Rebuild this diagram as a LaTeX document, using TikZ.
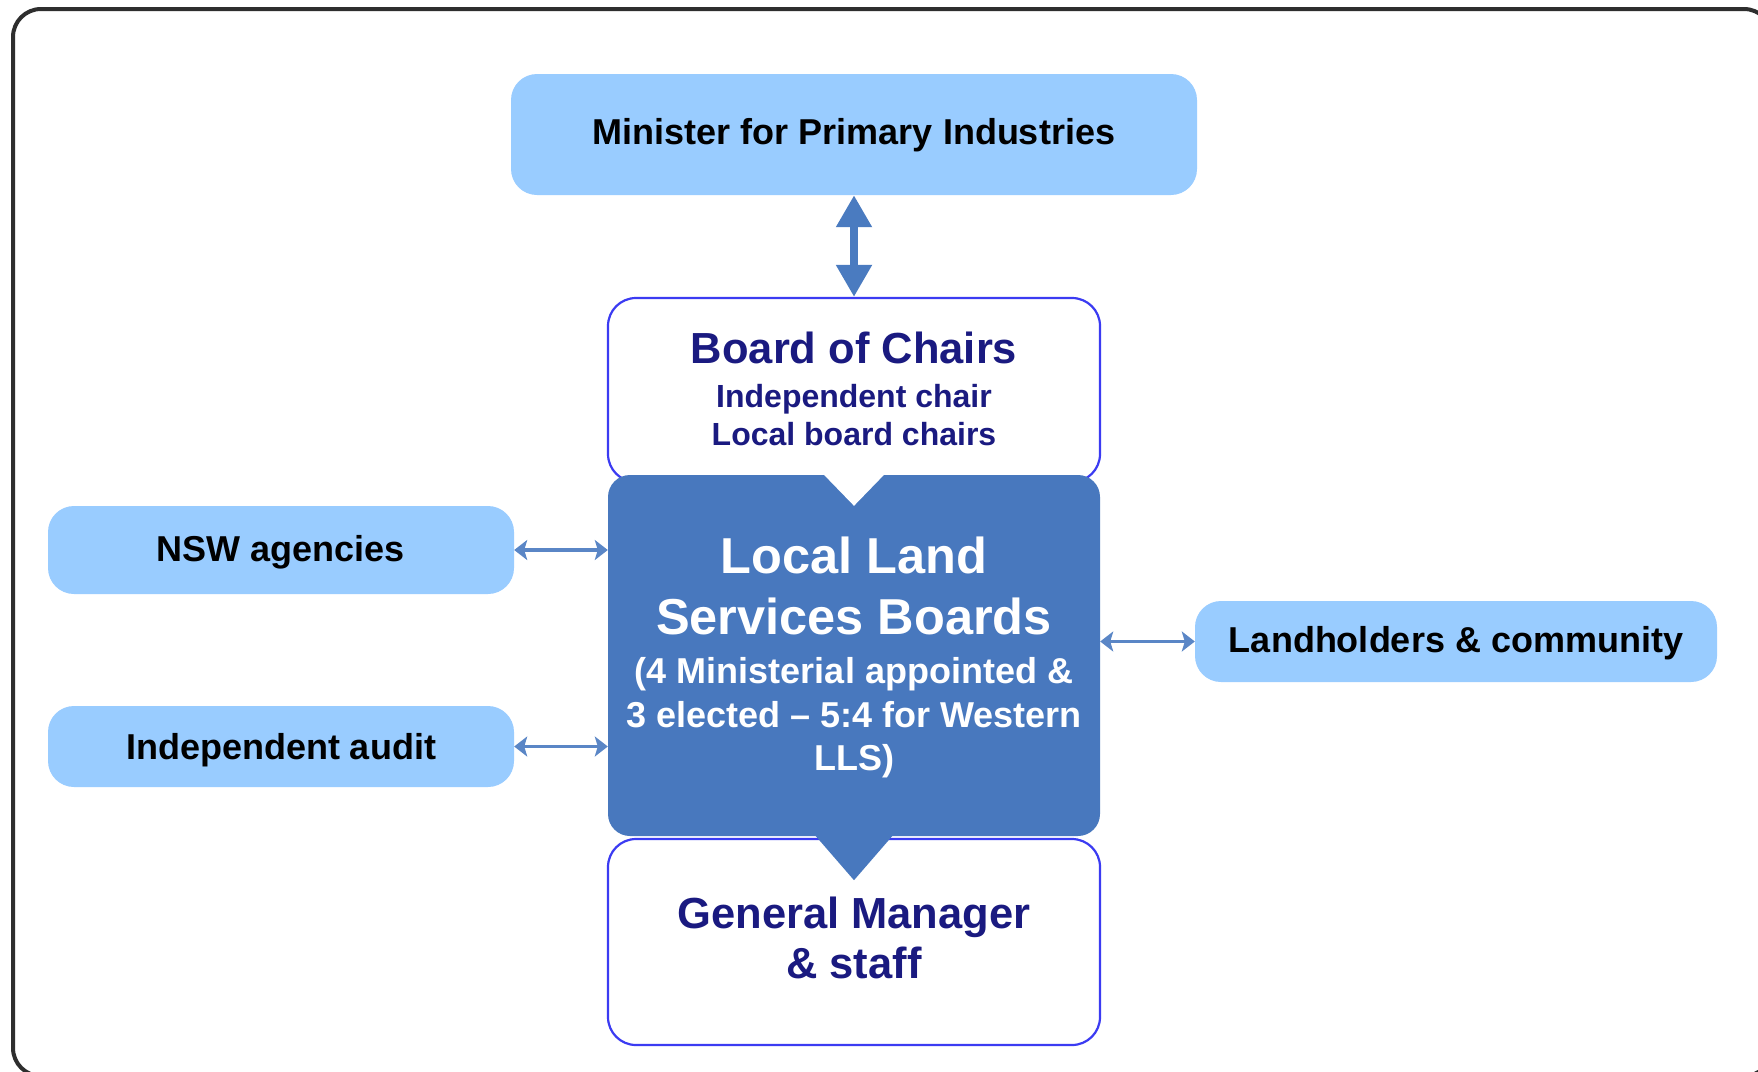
\documentclass[tikz,border=0pt]{standalone}
\usepackage{fontspec}
\setmainfont{Liberation Sans}
\usetikzlibrary{arrows.meta}
\definecolor{lightbox}{HTML}{99CCFF}
\definecolor{llsblue}{HTML}{4878BE}
\definecolor{navytext}{HTML}{1A1A80}
\definecolor{edgeblue}{HTML}{3B3BF2}
\definecolor{arrowblue}{HTML}{4A7BC0}
\definecolor{thinblue}{HTML}{5A86C6}
\definecolor{framegray}{HTML}{2E2E2E}
\newcommand{\pxfont}[1]{\fontsize{#1}{#1}\selectfont}
\begin{document}
\begin{tikzpicture}[x=1pt,y=-1pt,
  lbox/.style={fill=lightbox, draw=none, rounded corners=26pt, inner sep=0pt},
  wbox/.style={fill=white, draw=edgeblue, line width=2.2pt, rounded corners=28pt, inner sep=0pt},
  llsbox/.style={fill=llsblue, draw=none, rounded corners=22pt, inner sep=0pt},
  blabel/.style={anchor=base, inner sep=0pt, text=black, font=\bfseries\pxfont{36}},
  navybig/.style={anchor=base, inner sep=0pt, text=navytext, font=\bfseries\pxfont{43.5}},
  navysmall/.style={anchor=base, inner sep=0pt, text=navytext, font=\bfseries\pxfont{32}},
  whitebig/.style={anchor=base, inner sep=0pt, text=white, font=\bfseries\pxfont{50.5}},
  whitesmall/.style={anchor=base, inner sep=0pt, text=white, font=\bfseries\pxfont{36}},
  thickarrow/.style={draw=arrowblue, line width=8pt, {Triangle[length=32pt,width=34pt]}-{Triangle[length=32pt,width=34pt]}},
  thinarrow/.style={draw=thinblue, line width=3.5pt, {Stealth[length=13pt,width=20pt,inset=3pt]}-{Stealth[length=13pt,width=20pt,inset=3pt]}}
]
\useasboundingbox (0,0) rectangle (1758,1071);
\clip (0,0) rectangle (1758,1071);
\fill[white] (0,0) rectangle (1758,1071);
\draw[framegray, line width=4pt, rounded corners=28pt] (13,9) rectangle (1772,1076);

% boxes
\node[lbox, minimum width=686pt, minimum height=121pt] (minister) at (854,134.5) {};
\node[lbox, minimum width=466pt, minimum height=88pt] (nsw) at (281,550) {};
\node[lbox, minimum width=466pt, minimum height=81pt] (audit) at (281,746.5) {};
\node[lbox, minimum width=522pt, minimum height=81pt] (land) at (1456,641.5) {};
\node[wbox, minimum width=492pt, minimum height=184pt] (board) at (854,390) {};
\node[wbox, minimum width=492pt, minimum height=206pt] (gm) at (854,942) {};
\node[llsbox, minimum width=492pt, minimum height=361pt] (lls) at (854,655.5) {};

% callout pointers
\fill[white] ([xshift=-31pt,yshift=1pt]lls.north) -- ([xshift=31pt,yshift=1pt]lls.north) -- ([yshift=-31pt]lls.north) -- cycle;
\fill[llsblue] ([xshift=-39pt,yshift=1pt]lls.south) -- ([xshift=39pt,yshift=1pt]lls.south) -- ([yshift=-44pt]lls.south) -- cycle;

% texts
\node[blabel] (mintext) at (854,144) {Minister for Primary Industries};
\node[blabel] (nswtext) at (281,561) {NSW agencies};
\node[blabel] (audittext) at (281,759) {Independent audit};
\node[blabel] (landtext) at (1456,652) {Landholders \& community};

\node[navybig] (boardtitle) at (854,363) {Board of Chairs};
\node[navysmall] (boardline1) at (854,407) {Independent chair};
\node[navysmall] (boardline2) at (854,445) {Local board chairs};

\node[whitebig] (llsline1) at (854,573) {Local Land};
\node[whitebig] (llsline2) at (854,634) {Services Boards};
\node[whitesmall] (llsline3) at (854,683) {(4 Ministerial appointed \&};
\node[whitesmall] (llsline4) at (854,727) {3 elected – 5:4 for Western};
\node[whitesmall] (llsline5) at (854,770) {LLS)};

\node[navybig] (gmline1) at (854,928) {General Manager};
\node[navybig] (gmline2) at (854,978) {\& staff};

% connectors
\draw[thickarrow] (minister.south) -- (board.north);
\draw[thinarrow] (nsw.east) -- (nsw.east -| lls.west);
\draw[thinarrow] (audit.east) -- (audit.east -| lls.west);
\draw[thinarrow] (land.west -| lls.east) -- (land.west);
\end{tikzpicture}
\end{document}
